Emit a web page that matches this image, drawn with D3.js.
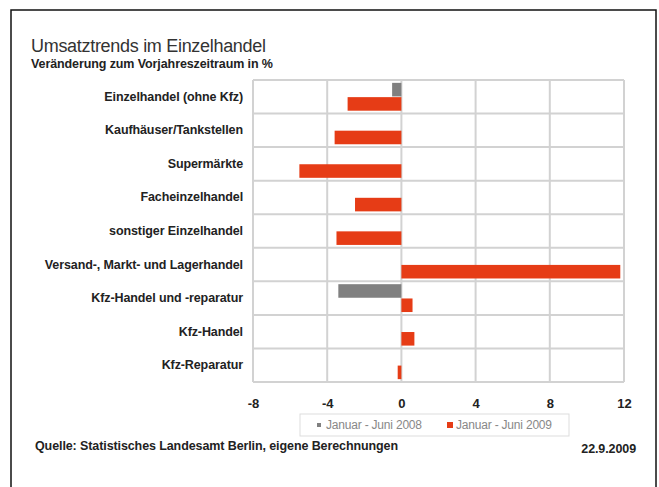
<!DOCTYPE html>
<html><head><meta charset="utf-8">
<script src="https://cdn.jsdelivr.net/npm/d3@7"></script>
<style>
html,body{margin:0;padding:0;background:#fff;}
svg text{font-family:"Liberation Sans",Arial,sans-serif;}
</style></head>
<body>
<svg id="c" width="659" height="487"></svg>
<script>
const categories = ["Einzelhandel (ohne Kfz)","Kaufhäuser/Tankstellen","Supermärkte","Facheinzelhandel","sonstiger Einzelhandel","Versand-, Markt- und Lagerhandel","Kfz-Handel und -reparatur","Kfz-Handel","Kfz-Reparatur"];
const series = ["Januar - Juni 2008","Januar - Juni 2009"];
const values2008 = [-0.5, null, null, null, null, null, -3.4, null, null];
const values2009 = [-2.9, -3.6, -5.5, -2.5, -3.5, 11.8, 0.6, 0.7, -0.2];
const ticks = [-8, -4, 0, 4, 8, 12];
const colors = ["#808080", "#e63c16"];

const svg = d3.select("#c");
// frame
svg.append("rect").attr("x",11).attr("y",10).attr("width",645).attr("height",490)
  .attr("fill","none").attr("stroke","#111").attr("stroke-width",1.5);

svg.append("text").attr("x",31).attr("y",52).attr("font-size",18).attr("fill","#333")
  .attr("letter-spacing",-0.3).text("Umsatztrends im Einzelhandel");
svg.append("text").attr("x",31).attr("y",68).attr("font-size",12.5).attr("font-weight","bold").attr("fill","#222")
  .attr("letter-spacing",-0.1).text("Veränderung zum Vorjahreszeitraum in %");

const L=253, R=624, T=80, B=382;
const x = d3.scaleLinear().domain([-8,12]).range([L,R]);
const y = d3.scaleBand().domain(categories).range([T,B]).paddingInner(0.17).paddingOuter(0.085);
const yi = d3.scaleBand().domain(series).range([0,y.bandwidth()]).paddingInner(0.05);

const grid = svg.append("g").attr("stroke","#d2d2d2").attr("stroke-width",2);
const step = y.step();
categories.forEach((c,i)=>{
  grid.append("line").attr("x1",L).attr("x2",R).attr("y1",T+i*step).attr("y2",T+i*step);
});
grid.append("line").attr("x1",L).attr("x2",R).attr("y1",B).attr("y2",B);
ticks.forEach(t=>{
  grid.append("line").attr("x1",x(t)).attr("x2",x(t)).attr("y1",T).attr("y2",B);
});

const data = [];
categories.forEach((c,i)=>{
  [values2008[i], values2009[i]].forEach((v,j)=>{
    if(v!==null) data.push({c, s:series[j], v, j});
  });
});
svg.append("g").selectAll("rect").data(data).join("rect")
  .attr("x",d=>x(Math.min(0,d.v)))
  .attr("width",d=>Math.abs(x(d.v)-x(0)))
  .attr("y",d=>y(d.c)+yi(d.s))
  .attr("height",yi.bandwidth())
  .attr("fill",d=>colors[d.j]);

svg.append("g").selectAll("text").data(categories).join("text")
  .attr("x",243).attr("y",d=>y(d)+y.bandwidth()/2+4)
  .attr("text-anchor","end").attr("font-size",12.5).attr("font-weight","bold")
  .attr("fill","#222").attr("letter-spacing",-0.1).text(d=>d);

const xa = svg.append("g").attr("transform",`translate(0,${B})`)
  .call(d3.axisBottom(x).tickValues(ticks).tickSize(0).tickPadding(17).tickFormat(d=>String(d)));
xa.select(".domain").remove();
xa.selectAll("text").attr("font-size",13).attr("font-weight","bold").attr("fill","#222")
  .style("font-family","'Liberation Sans',Arial,sans-serif");

// legend
const lg = svg.append("g");
lg.append("rect").attr("x",300).attr("y",414).attr("width",269).attr("height",22)
  .attr("fill","#fff").attr("stroke","#ddd").attr("stroke-width",1);
const lx = [317, 447];
const ms = [4, 6];
series.forEach((s,i)=>{
  lg.append("rect").attr("x",lx[i]).attr("y",425-ms[i]/2).attr("width",ms[i]).attr("height",ms[i]).attr("fill",colors[i]);
  lg.append("text").attr("x",lx[i]+9).attr("y",429).attr("font-size",12).attr("fill","#888")
    .attr("letter-spacing",-0.2).text(s);
});

svg.append("text").attr("x",35).attr("y",450).attr("font-size",12.5).attr("font-weight","bold").attr("fill","#222")
  .attr("letter-spacing",-0.1).text("Quelle: Statistisches Landesamt Berlin, eigene Berechnungen");
svg.append("text").attr("x",636).attr("y",453).attr("text-anchor","end").attr("font-size",12.5).attr("font-weight","bold").attr("fill","#222")
  .attr("letter-spacing",-0.1).text("22.9.2009");
</script>
</body></html>
